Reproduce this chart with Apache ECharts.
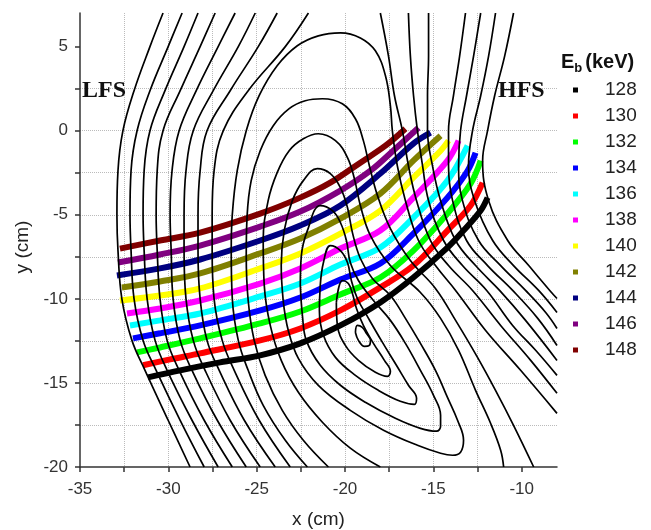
<!DOCTYPE html>
<html>
<head>
<meta charset="utf-8">
<title>Beam trajectories over flux surfaces</title>
<script src="https://cdn.jsdelivr.net/npm/echarts@6.0.0/dist/echarts.min.js"></script>
<style>
  html, body { margin: 0; padding: 0; background: #fff; }
  #chart { width: 651px; height: 530px; }
</style>
</head>
<body>
<div id="chart"></div>
<script>
// beam energies in keV, one trajectory each
var energies = [128, 130, 132, 134, 136, 138, 140, 142, 144, 146, 148];
var beamColors = ['#000000', '#ff0000', '#00ff00', '#0000ff', '#00ffff', '#ff00ff',
                  '#ffff00', '#808000', '#000080', '#800080', '#800000'];

// axis ticks
var xTicks = [-35, -30, -25, -20, -15, -10];
var yTicks = [-20, -15, -10, -5, 0, 5];
var xTickMarks = [-35, -32.5, -30, -27.5, -25, -22.5, -20, -17.5, -15, -12.5, -10];
var yTickMarks = [-20, -17.5, -15, -12.5, -10, -7.5, -5, -2.5, 0, 2.5, 5];

// beam trajectories [x, y] in cm
var beam128 = [[-31.15,-14.67],[-29.33,-14.25],[-27.07,-13.78],[-24.80,-13.36],[-22.53,-12.65],[-20.26,-11.58],[-18.00,-10.21],[-16.13,-8.73],[-14.20,-6.95],[-13.29,-5.94],[-12.32,-4.75],[-11.93,-3.98]];
var beam130 = [[-31.43,-13.95],[-29.90,-13.60],[-28.20,-13.24],[-24.80,-12.47],[-22.53,-11.76],[-20.26,-10.69],[-18.00,-9.32],[-16.13,-8.02],[-14.20,-5.94],[-12.89,-4.45],[-12.21,-3.09]];
var beam132 = [[-31.77,-13.18],[-30.47,-12.89],[-28.20,-12.35],[-24.80,-11.46],[-22.53,-10.75],[-20.26,-9.74],[-18.00,-8.73],[-16.13,-7.13],[-14.20,-4.93],[-12.89,-3.15],[-12.32,-1.78]];
var beam134 = [[-32.00,-12.35],[-30.47,-12.05],[-28.20,-11.58],[-24.80,-10.69],[-22.53,-9.92],[-20.26,-8.85],[-18.00,-7.90],[-16.13,-6.12],[-14.20,-3.98],[-13.06,-2.38],[-12.61,-1.31]];
var beam136 = [[-32.17,-11.58],[-30.47,-11.28],[-28.20,-10.87],[-24.80,-9.86],[-22.53,-9.09],[-20.26,-7.96],[-18.00,-6.95],[-16.13,-5.17],[-14.20,-2.97],[-13.06,-0.89]];
var beam138 = [[-32.34,-10.87],[-30.47,-10.57],[-28.20,-10.10],[-24.80,-9.09],[-22.53,-8.19],[-20.26,-7.01],[-18.00,-5.94],[-16.13,-3.98],[-14.20,-1.78],[-13.57,-0.59]];
var beam140 = [[-32.74,-10.10],[-30.47,-9.80],[-28.20,-9.38],[-24.80,-8.19],[-22.53,-7.30],[-20.26,-6.12],[-18.00,-4.75],[-16.13,-2.79],[-14.59,-1.19],[-14.14,-0.59]];
var beam142 = [[-32.63,-9.32],[-30.47,-8.97],[-28.20,-8.49],[-24.80,-7.30],[-22.53,-6.41],[-20.26,-5.23],[-18.00,-3.74],[-16.13,-1.78],[-14.59,-0.30]];
var beam144 = [[-32.91,-8.61],[-30.47,-8.19],[-28.20,-7.66],[-24.80,-6.53],[-22.53,-5.64],[-20.26,-4.45],[-18.00,-2.55],[-16.13,-0.77],[-15.16,-0.12]];
var beam146 = [[-32.85,-7.84],[-30.47,-7.36],[-28.20,-6.83],[-24.80,-5.70],[-22.53,-4.81],[-20.26,-3.56],[-18.56,-2.38],[-17.15,-1.07],[-15.84,0.18]];
var beam148 = [[-32.74,-7.01],[-30.47,-6.53],[-28.20,-6.06],[-24.80,-4.93],[-22.53,-3.98],[-20.83,-3.09],[-19.13,-1.90],[-17.71,-0.89],[-16.58,0.12]];

// flux surfaces, left side (enter from the top, leave at the bottom)
var fluxL1 = [[-30.30,7],[-31.04,5],[-31.94,2.38],[-32.57,0],[-32.85,-2.38],[-32.91,-5],[-32.85,-7.13],[-32.63,-10],[-32.06,-12.47],[-31.32,-14.25],[-30.01,-17.22],[-28.77,-20]];
var fluxL2 = [[-29.22,7],[-30.01,5],[-31.04,2.38],[-31.77,0],[-32.11,-2.38],[-32.17,-5],[-32.11,-7.13],[-31.94,-10],[-31.43,-12.47],[-30.69,-14.25],[-29.33,-17.22],[-27.97,-20]];
var fluxL3 = [[-28.32,7],[-29.11,5],[-30.19,2.38],[-31.04,0],[-31.37,-2.38],[-31.43,-5],[-31.37,-7.13],[-31.20,-10],[-30.75,-12.47],[-30.07,-14.25],[-28.66,-17.22],[-27.18,-20]];
var fluxL4 = [[-27.35,7],[-28.20,5],[-29.33,2.38],[-30.30,0],[-30.63,-2.38],[-30.69,-5],[-30.63,-7.13],[-30.47,-10],[-30.07,-12.47],[-29.39,-14.25],[-27.97,-17.22],[-26.38,-20]];
var fluxL5 = [[-26.22,7],[-27.18,5],[-28.42,2.38],[-29.39,0],[-29.79,-2.38],[-29.90,-5],[-29.84,-7.13],[-29.73,-10],[-29.33,-12.47],[-28.66,-14.25],[-27.23,-17.22],[-25.59,-20]];
var fluxL6 = [[-25.08,7],[-26.04,5],[-27.46,2.38],[-28.59,0],[-29.00,-2.38],[-29.11,-5],[-29.11,-7.13],[-29.00,-10],[-28.59,-12.47],[-27.92,-14.25],[-26.50,-17.22],[-24.80,-20]];
var fluxL7 = [[-23.84,7],[-24.91,5],[-26.50,2.38],[-27.81,0],[-28.20,-2.38],[-28.32,-5],[-28.32,-7.13],[-28.20,-10],[-27.81,-12.47],[-27.12,-14.25],[-25.70,-17.22],[-23.95,-20]];
var fluxL8 = [[-22.07,7],[-23.38,5],[-25.48,2.38],[-26.89,0],[-27.41,-2.38],[-27.52,-5],[-27.52,-7.13],[-27.41,-10],[-26.95,-12.47],[-26.27,-14.25],[-24.86,-17.22],[-23.10,-20]];

// flux surfaces whose top lies inside the frame
var fluxP1 = [[-22.13,-20],[-23.38,-18.41],[-24.63,-16.33],[-25.48,-14.25],[-26.04,-12.47],[-26.38,-9.98],[-26.44,-7.13],[-26.38,-4.99],[-26.10,-2.38],[-25.59,0],[-24.86,2.08],[-23.84,3.86],[-22.70,5.05],[-21.51,5.64],[-20.26,5.82],[-19.13,5.52],[-18.28,4.75],[-17.71,3.27],[-17.43,1.48],[-17.32,0],[-17.04,-2.08],[-16.58,-4.16],[-15.84,-6.53],[-14.88,-8.02],[-13.74,-9.50],[-12.04,-11.88],[-10.06,-14.25],[-8.0,-16.81]];
var fluxP2 = [[-20.94,-20],[-22.36,-18.41],[-23.55,-16.63],[-24.52,-14.55],[-25.14,-12.47],[-25.48,-10.10],[-25.59,-7.42],[-25.54,-5.05],[-25.31,-2.97],[-24.80,-1.19],[-24.06,0.30],[-23.16,1.31],[-22.25,1.78],[-21.28,1.90],[-20.15,1.60],[-19.41,0.71],[-18.96,-0.59],[-18.62,-2.08],[-18.16,-3.86],[-17.43,-5.82],[-16.30,-7.72],[-14.88,-9.38],[-13.74,-11.28],[-12.50,-13.48],[-11.48,-15.44],[-10.46,-17.52],[-9.32,-20]];
var fluxP3 = [[-18.00,-20],[-19.70,-18.88],[-21.28,-17.34],[-22.64,-15.56],[-23.61,-13.66],[-24.23,-11.58],[-24.57,-9.20],[-24.63,-6.53],[-24.35,-4.16],[-23.84,-2.49],[-23.16,-1.19],[-22.36,-0.48],[-21.51,-0.18],[-20.54,-0.59],[-19.86,-1.60],[-19.47,-2.85],[-19.13,-4.45],[-18.56,-6.24],[-17.43,-8.02],[-15.73,-9.62],[-14.59,-11.16],[-13.57,-13.06],[-12.61,-15.44],[-11.76,-17.40],[-11.19,-19.00],[-11.02,-20]];
var fluxP4 = [[-23.50,-10.10],[-23.61,-8.02],[-23.44,-5.94],[-22.98,-4.16],[-22.36,-2.97],[-21.57,-2.26],[-20.83,-2.55],[-20.26,-3.38],[-19.86,-4.57],[-19.58,-6.06],[-19.13,-7.60],[-18.45,-8.79],[-17.43,-9.80],[-16.58,-11.16],[-15.73,-12.65],[-14.88,-14.25],[-14.20,-15.86],[-13.63,-17.22],[-13.29,-18.41],[-13.46,-19.12],[-13.91,-19.30],[-14.59,-19.18],[-15.90,-18.71],[-17.82,-17.81],[-19.70,-16.63],[-21.51,-15.14],[-22.64,-13.54],[-23.21,-11.88],[-23.50,-10.10]];
var fluxP5 = [[-22.53,-9.20],[-22.47,-7.42],[-22.13,-5.94],[-21.40,-4.45],[-20.71,-4.75],[-20.26,-5.46],[-19.92,-6.53],[-19.70,-7.84],[-19.24,-8.91],[-18.39,-10.10],[-17.43,-11.28],[-16.58,-12.65],[-15.73,-14.25],[-14.99,-15.74],[-14.59,-16.92],[-14.59,-17.58],[-14.82,-17.87],[-15.73,-17.70],[-17.15,-17.10],[-18.85,-16.15],[-20.26,-15.14],[-21.40,-13.95],[-22.19,-12.47],[-22.41,-10.99],[-22.53,-9.20]];
var fluxP6 = [[-21.40,-9.20],[-21.22,-7.84],[-20.83,-6.83],[-20.26,-7.13],[-19.86,-7.84],[-19.64,-8.91],[-19.30,-9.98],[-18.67,-11.16],[-17.88,-12.59],[-17.09,-13.95],[-16.41,-15.14],[-15.95,-15.91],[-16.07,-16.27],[-16.87,-16.09],[-18.11,-15.44],[-19.41,-14.55],[-20.54,-13.48],[-21.22,-12.17],[-21.45,-10.69],[-21.40,-9.20]];
var fluxP7 = [[-20.49,-10.21],[-20.15,-8.91],[-19.81,-9.09],[-19.58,-9.68],[-19.35,-10.57],[-18.96,-11.58],[-18.39,-12.65],[-17.77,-13.66],[-17.43,-14.31],[-17.60,-14.61],[-18.28,-14.37],[-19.24,-13.66],[-19.98,-12.77],[-20.43,-11.58],[-20.49,-10.21]];
var fluxP8 = [[-19.41,-12.00],[-19.30,-11.58],[-19.02,-11.70],[-18.79,-12.05],[-18.56,-12.47],[-18.62,-12.77],[-18.90,-12.83],[-19.24,-12.47],[-19.41,-12.00]];

// flux surfaces, right side (enter from the top, leave at the right edge)
var fluxR1 = [[-18.00,7],[-17.54,4.45],[-17.20,2.08],[-16.75,0],[-16.41,-2.08],[-15.95,-4.16],[-15.16,-6.53],[-14.14,-8.02],[-12.78,-9.50],[-11.19,-11.58],[-9.49,-13.66],[-8.0,-15.62]];
var fluxR2 = [[-16.41,7],[-16.30,4.45],[-16.12,2.08],[-15.90,0],[-15.61,-2.08],[-15.27,-4.16],[-14.42,-6.53],[-13.35,-8.02],[-11.98,-9.50],[-10.51,-11.58],[-9.21,-13.06],[-8.0,-14.55]];
var fluxR3 = [[-15.27,7],[-15.27,4.45],[-15.33,2.08],[-15.33,0],[-15.05,-2.08],[-14.59,-4.16],[-13.74,-6.53],[-12.61,-8.02],[-11.25,-9.50],[-9.78,-11.28],[-8.0,-13.66]];
var fluxR4 = [[-13.18,7],[-13.51,4.45],[-13.86,2.08],[-14.14,0],[-14.14,-2.08],[-13.91,-4.16],[-13.12,-6.53],[-11.93,-8.02],[-10.51,-9.50],[-9.09,-11.16],[-8.0,-12.77]];
var fluxR5 = [[-12.32,7],[-12.72,4.45],[-13.12,2.08],[-13.46,0],[-13.57,-2.08],[-13.35,-4.16],[-12.44,-6.53],[-11.19,-8.02],[-9.78,-9.50],[-8.64,-10.81],[-8.0,-11.76]];
var fluxR6 = [[-11.48,7],[-11.87,4.45],[-12.32,2.08],[-12.78,0],[-13.01,-2.08],[-12.66,-4.16],[-11.64,-6.53],[-10.46,-8.02],[-9.04,-9.50],[-8.0,-10.81]];
var fluxR7 = [[-10.46,7],[-10.96,4.45],[-11.53,2.08],[-11.93,0],[-12.21,-1.78],[-11.87,-4.16],[-10.79,-6.53],[-9.60,-8.02],[-8.41,-9.50],[-8.0,-9.98]];

var beams = [beam128, beam130, beam132, beam134, beam136, beam138, beam140, beam142, beam144, beam146, beam148];
var fluxLines = [fluxL1, fluxL2, fluxL3, fluxL4, fluxL5, fluxL6, fluxL7, fluxL8,
                 fluxP1, fluxP2, fluxP3, fluxP4, fluxP5, fluxP6, fluxP7, fluxP8,
                 fluxR1, fluxR2, fluxR3, fluxR4, fluxR5, fluxR6, fluxR7];

var sans = 'Liberation Sans';
var series = [];
for (var i = 0; i < energies.length; i++) {
    series.push({
        name: String(energies[i]),
        type: 'line',
        data: beams[i],
        smooth: 0.35,
        symbol: 'none',
        lineStyle: { color: beamColors[i], width: 6 },
        itemStyle: { color: beamColors[i] },
        z: 2
    });
}
for (var j = 0; j < fluxLines.length; j++) {
    series.push({
        name: 'flux' + j,
        type: 'line',
        data: fluxLines[j],
        smooth: 0.4,
        symbol: 'none',
        silent: true,
        lineStyle: { color: '#000', width: 1.7 },
        z: 3
    });
}

var chart = echarts.init(document.getElementById('chart'));
chart.setOption({
    animation: false,
    backgroundColor: '#fff',
    title: {
        text: '{e|E}{s|b}{e|(keV)}',
        left: 561, top: 49, padding: 0,
        textStyle: {
            rich: {
                e: { fontFamily: sans, fontSize: 20, fontWeight: 'bold', color: '#111', lineHeight: 26 },
                s: { fontFamily: sans, fontSize: 13, fontWeight: 'bold', color: '#111', lineHeight: 26,
                     verticalAlign: 'bottom', padding: [0, 3, 0, 0] }
            }
        }
    },
    legend: {
        orient: 'vertical',
        left: 573, top: 80, padding: 0,
        data: energies.map(String),
        icon: 'rect',
        itemWidth: 5, itemHeight: 5, itemGap: 6,
        selectedMode: false,
        textStyle: { fontFamily: sans, fontSize: 19, lineHeight: 20, color: '#222',
                     padding: [0, 0, 0, 22] }
    },
    graphic: [
        { type: 'text', left: 82, top: 79, z: 10,
          style: { text: 'LFS', font: 'bold 24px "Liberation Serif"', fill: '#111' } },
        { type: 'text', left: 498, top: 79, z: 10,
          style: { text: 'HFS', font: 'bold 24px "Liberation Serif"', fill: '#111' } }
    ],
    grid: { left: 80, right: 94, top: 13, bottom: 63, outerBoundsMode: 'none' },
    xAxis: {
        type: 'value', min: -35, max: -8, interval: 5,
        name: 'x (cm)', nameLocation: 'middle', nameGap: 43,
        nameTextStyle: { fontFamily: sans, fontSize: 19, color: '#222' },
        axisLine: { show: true, onZero: false, lineStyle: { color: '#333', width: 1.5 } },
        axisTick: { show: true, inside: false, length: 5, customValues: xTickMarks,
                    lineStyle: { color: '#333', width: 1.5 } },
        axisLabel: { customValues: xTicks, margin: 14, fontFamily: sans, fontSize: 17, color: '#333' },
        splitLine: { show: true, showMinLine: false, showMaxLine: false,
                     lineStyle: { color: '#bbb', type: 'dotted', width: 1 } }
    },
    yAxis: {
        type: 'value', min: -20, max: 7, interval: 5,
        name: 'y (cm)', nameLocation: 'middle', nameGap: 46,
        nameTextStyle: { fontFamily: sans, fontSize: 19, color: '#222', padding: [0, 14, 0, 0] },
        axisLine: { show: true, onZero: false, lineStyle: { color: '#333', width: 1.5 } },
        axisTick: { show: true, inside: false, length: 5, customValues: yTickMarks,
                    lineStyle: { color: '#333', width: 1.5 } },
        axisLabel: { customValues: yTicks, margin: 12, fontFamily: sans, fontSize: 17, color: '#333' },
        splitLine: { show: true, showMinLine: false, showMaxLine: false,
                     lineStyle: { color: '#bbb', type: 'dotted', width: 1 } }
    },
    series: series
});
</script>
</body>
</html>
